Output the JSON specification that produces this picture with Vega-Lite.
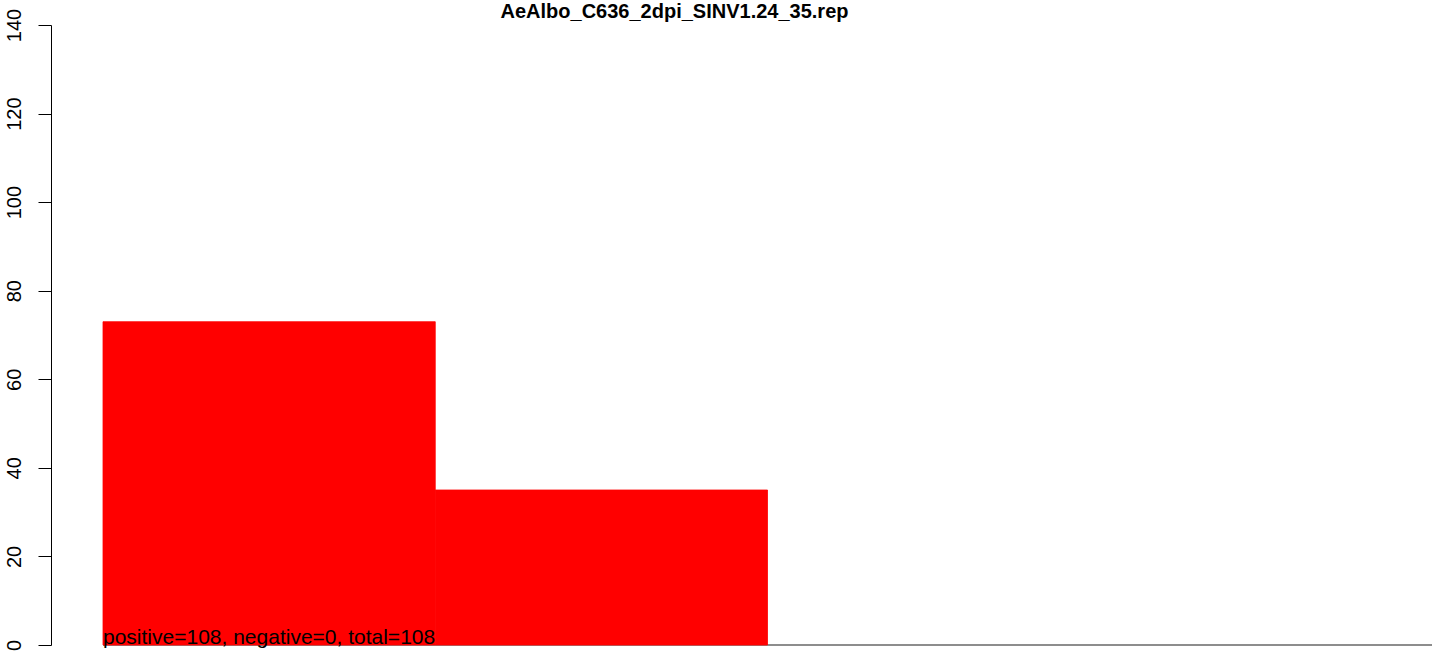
{
  "$schema": "https://vega.github.io/schema/vega-lite/v6.json",
  "autosize": "none",
  "width": 1329,
  "height": 620,
  "padding": {"left": 103, "top": 25, "right": 12, "bottom": 12},
  "background": "white",
  "config": {
    "view": {"stroke": null},
    "font": "Liberation Sans"
  },
  "title": {
    "text": "AeAlbo_C636_2dpi_SINV1.24_35.rep",
    "font": "Liberation Sans",
    "fontSize": 20,
    "fontWeight": "bold",
    "color": "black",
    "anchor": "middle",
    "frame": "group",
    "dx": -93,
    "dy": 14,
    "offset": 0
  },
  "data": {
    "values": [
      {"bin": "1", "count": 73},
      {"bin": "2", "count": 35},
      {"bin": "3", "count": 0},
      {"bin": "4", "count": 0}
    ]
  },
  "encoding": {
    "x": {
      "field": "bin",
      "type": "ordinal",
      "scale": {"domain": ["1", "2", "3", "4"], "paddingInner": 0, "paddingOuter": 0},
      "axis": null
    }
  },
  "layer": [
    {
      "mark": {"type": "rule", "color": "#8c8c8c", "strokeWidth": 1.5},
      "encoding": {
        "x": null,
        "y": {"datum": 0, "type": "quantitative"}
      }
    },
    {
      "transform": [{"filter": "datum.count > 0"}],
      "mark": {"type": "bar", "color": "#ff0000", "stroke": "#ff0000", "strokeWidth": 0.8},
      "encoding": {
        "y": {
          "field": "count",
          "type": "quantitative",
          "scale": {"domain": [0, 140], "nice": false, "zero": true},
          "axis": {
            "values": [0, 20, 40, 60, 80, 100, 120, 140],
            "grid": false,
            "offset": 52,
            "domainColor": "black",
            "domainWidth": 1,
            "tickColor": "black",
            "tickWidth": 1,
            "tickSize": 13,
            "labelAngle": 270,
            "labelAlign": "center",
            "labelBaseline": "alphabetic",
            "labelPadding": 18,
            "labelFont": "Liberation Sans",
            "labelFontSize": 20,
            "labelColor": "black",
            "labelFlush": false,
            "labelOverlap": false,
            "title": null
          }
        }
      }
    },
    {
      "transform": [{"filter": "datum.bin == '1'"}],
      "mark": {
        "type": "text",
        "text": "positive=108, negative=0, total=108",
        "align": "left",
        "baseline": "alphabetic",
        "font": "Liberation Sans",
        "fontSize": 21,
        "color": "black",
        "dy": -1
      },
      "encoding": {
        "x": {"field": "bin", "type": "ordinal", "bandPosition": 0},
        "y": {"datum": 0, "type": "quantitative"}
      }
    }
  ]
}
